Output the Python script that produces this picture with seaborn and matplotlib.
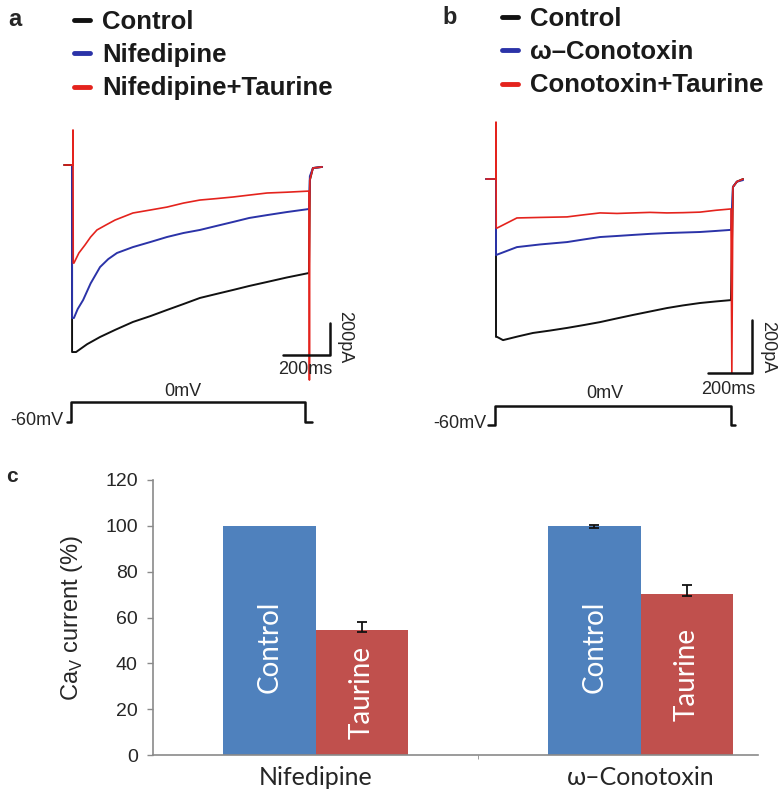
import matplotlib
matplotlib.use("Agg")
import matplotlib.pyplot as plt
import seaborn as sns
import pandas as pd
from matplotlib.lines import Line2D

sns.set_style("white")
plt.rcParams['font.family'] = ['Liberation Sans', 'DejaVu Sans']

W, H = 779, 795

# ---- panel a traces (time in ms, current in pA) ----
a_labels = ['Control', 'Nifedipine', 'Nifedipine+Taurine']
a_ctrl_t = [-38, -4, -4, 13, 60, 115, 180, 255, 330, 400, 470, 540, 610, 681, 750, 826, 910, 1004, 1008, 1021, 1060]
a_ctrl_i = [0, 0, -1169, -1169, -1120, -1075, -1030, -981, -944, -906, -869, -831, -806, -781, -756, -731, -703, -675, -94, -19, -12]
a_nif_t = [-4, -4, 4, 20, 43, 75, 115, 150, 187, 255, 330, 400, 470, 540, 610, 681, 750, 826, 910, 1004, 1008, 1021, 1060]
a_nif_i = [0, -956, -956, -900, -844, -740, -638, -588, -550, -513, -481, -450, -425, -406, -381, -356, -331, -313, -294, -275, -70, -19, -12]
a_tau_t = [-38, 0, 0, 1, 4, 25, 51, 75, 102, 140, 179, 255, 330, 400, 470, 540, 610, 681, 750, 826, 910, 1004, 1006, 1008, 1021, 1060]
a_tau_i = [0, 0, 219, -613, -613, -550, -500, -450, -406, -375, -344, -300, -281, -263, -238, -219, -210, -200, -188, -175, -170, -163, -1344, -94, -19, -12]
a_bar_t = [894, 1094, 1094]
a_bar_i = [-1188, -1188, -988]
a_prot_t = [-26, -8, -8, 987, 987, 1017]
a_prot_v = [-60, -60, 0, 0, -60, -60]

# ---- panel b traces ----
b_labels = ['Control', 'ω–Conotoxin', 'Conotoxin+Taurine']
b_ctrl_t = [-45, 0, 0, 5, 32, 100, 168, 245, 323, 400, 473, 550, 623, 700, 777, 850, 927, 1000, 1068, 1077, 1095, 1123]
b_ctrl_i = [0, 0, -596, -596, -608, -594, -581, -572, -562, -551, -540, -526, -513, -500, -487, -477, -468, -462, -457, -30, -10, 0]
b_cono_t = [-45, 0, 0, 95, 200, 323, 400, 473, 550, 623, 700, 777, 850, 927, 1000, 1068, 1077, 1095, 1123]
b_cono_i = [0, 0, -287, -257, -247, -238, -228, -219, -215, -211, -207, -204, -202, -200, -196, -192, -30, -10, -4]
b_tau_t = [-45, 0, 0, 1, 5, 95, 200, 323, 400, 473, 550, 623, 700, 777, 850, 927, 1000, 1068, 1072, 1077, 1095, 1123]
b_tau_i = [0, 0, 215, -185, -185, -147, -145, -143, -135, -128, -130, -128, -126, -128, -127, -125, -118, -113, -732, -30, -10, 0]
b_bar_t = [964, 1164, 1164]
b_bar_i = [-732, -732, -532]
b_prot_t = [-36, -4, -4, 1068, 1068, 1086]
b_prot_v = [-60, -60, 0, 0, -60, -60]

# ---- panel c bars ----
drugs = ['Nifedipine', 'ω–Conotoxin']
conds = ['Control', 'Taurine']
bar_vals = [100, 54.6, 100, 70.3]
bar_err = [0, 3.5, 0.5, 4.0]
label_y = [47, 27.5, 47, 35.2]

trace_colors = ['#111111', '#2b33a8', '#e4231d']
bar_colors = ['#4f81bd', '#c0504d']

fig = plt.figure(figsize=(W / 100, H / 100), dpi=100)


def px_axes(box, t0, base, sx, sy):
    x0, y0, x1, y1 = box
    ax = fig.add_axes([x0 / W, 1 - y1 / H, (x1 - x0) / W, (y1 - y0) / H])
    ax.set_xlim((x0 - t0) / sx, (x1 - t0) / sx)
    ax.set_ylim(-(y1 - base) / sy, -(y0 - base) / sy)
    ax.axis('off')
    return ax


def draw_traces(ax, series, labels):
    rows = []
    for k, (t, i) in enumerate(series):
        for tt, ii in zip(t, i):
            rows.append({'t': tt, 'i': ii, 'cond': labels[k]})
    df = pd.DataFrame(rows)
    for k, lab in enumerate(labels):
        sub = df[df['cond'] == lab]
        sns.lineplot(data=sub, x='t', y='i', sort=False, estimator=None,
                     color=trace_colors[k], lw=1.4 if k < 2 else 1.2, ax=ax)


def draw_legend(labels, anchor):
    handles = [Line2D([], [], color=c, lw=3.5) for c in trace_colors]
    leg = fig.legend(handles, labels, loc='upper left',
                     bbox_to_anchor=(anchor[0] / W, 1 - anchor[1] / H),
                     frameon=False, prop={'weight': 'bold', 'size': 18.5},
                     handlelength=0.62, handletextpad=0.47, labelspacing=0.36,
                     borderpad=0, borderaxespad=0)
    for t in leg.get_texts():
        t.set_color('#1a1a1a')


# panel a
axa = px_axes((40, 100, 370, 392), 73, 165, 0.235, 0.16)
draw_traces(axa, [(a_ctrl_t, a_ctrl_i), (a_nif_t, a_nif_i), (a_tau_t, a_tau_i)], a_labels)
axa.plot(a_bar_t, a_bar_i, color='#111111', lw=1.8)
axa.text(987, -1281, '200ms', ha='center', va='center', fontsize=13)
axa.text(1157, -1075, '200pA', ha='center', va='center', fontsize=13, rotation=270)

axpa = px_axes((40, 375, 370, 440), 73, 402, 0.235, 20 / 60)
axpa.plot(a_prot_t, a_prot_v, color='#111111', lw=1.8)
axpa.text(468, 33, '0mV', ha='center', va='center', fontsize=13)
axpa.text(-40, -56, '-60mV', ha='right', va='center', fontsize=13)

# panel b
axb = px_axes((420, 100, 779, 400), 496, 179, 0.22, 0.265)
draw_traces(axb, [(b_ctrl_t, b_ctrl_i), (b_cono_t, b_cono_i), (b_tau_t, b_tau_i)], b_labels)
axb.plot(b_bar_t, b_bar_i, color='#111111', lw=1.8)
axb.text(1055, -796, '200ms', ha='center', va='center', fontsize=13)
axb.text(1236, -634, '200pA', ha='center', va='center', fontsize=13, rotation=270)

axpb = px_axes((420, 375, 779, 440), 496, 406, 0.22, 19 / 60)
axpb.plot(b_prot_t, b_prot_v, color='#111111', lw=1.8)
axpb.text(495, 41, '0mV', ha='center', va='center', fontsize=13)
axpb.text(-42, -56, '-60mV', ha='right', va='center', fontsize=13)

draw_legend(a_labels, (74, 10))
draw_legend(b_labels, (502, 7))
fig.text(15 / W, 1 - 20 / H, 'a', fontsize=17, weight='bold', ha='center', va='center')
fig.text(450 / W, 1 - 17 / H, 'b', fontsize=17, weight='bold', ha='center', va='center')
fig.text(12 / W, 1 - 477 / H, 'c', fontsize=15, weight='bold', ha='center', va='center')

# panel c
axc = fig.add_axes([153 / W, 1 - 755 / H, 605 / W, 275 / H])
df = pd.DataFrame({'drug': [d for d in drugs for _ in conds],
                   'cond': conds * len(drugs), 'value': bar_vals})
sns.barplot(data=df, x='drug', y='value', hue='cond', palette=bar_colors,
            width=0.57, errorbar=None, saturation=1, linewidth=0,
            legend=False, ax=axc)
bars = sorted(axc.patches, key=lambda p: p.get_x())
for k, p in enumerate(bars):
    xc = p.get_x() + p.get_width() / 2
    if bar_err[k] > 0:
        axc.errorbar(xc, bar_vals[k], yerr=[[0.8], [bar_err[k]]], fmt='none',
                     ecolor='#111111', elinewidth=1.3, capsize=3.5, capthick=1.3)
    axc.text(xc, label_y[k], df['cond'][k], rotation=90, ha='center', va='center',
             color='white', fontsize=20, family=['Lato', 'DejaVu Sans'])

axc.set_xlim(-0.5, 1.3615)
axc.set_ylim(0, 120)
axc.set_yticks(range(0, 121, 20))
axc.set_xlabel('')
axc.set_ylabel(r'Ca$_\mathregular{V}$ current (%)', fontsize=17)
axc.yaxis.set_label_coords(-0.112, 0.5)
sns.despine(ax=axc)
for s in ['left', 'bottom']:
    axc.spines[s].set_color('#8a8a8a')
    axc.spines[s].set_linewidth(1.2)
axc.tick_params(axis='y', length=4, width=1, color='#8a8a8a', direction='out',
                labelsize=14, pad=7, left=True)
axc.tick_params(axis='x', length=0, pad=8)
axc.set_xticks([0, 1])
axc.set_xticklabels(drugs, fontsize=18, family=['Lato', 'DejaVu Sans'])
axc.set_xticks([0.5], minor=True)
axc.tick_params(axis='x', which='minor', length=3, color='#8a8a8a', bottom=True)

fig.savefig('out.png', dpi=100)
